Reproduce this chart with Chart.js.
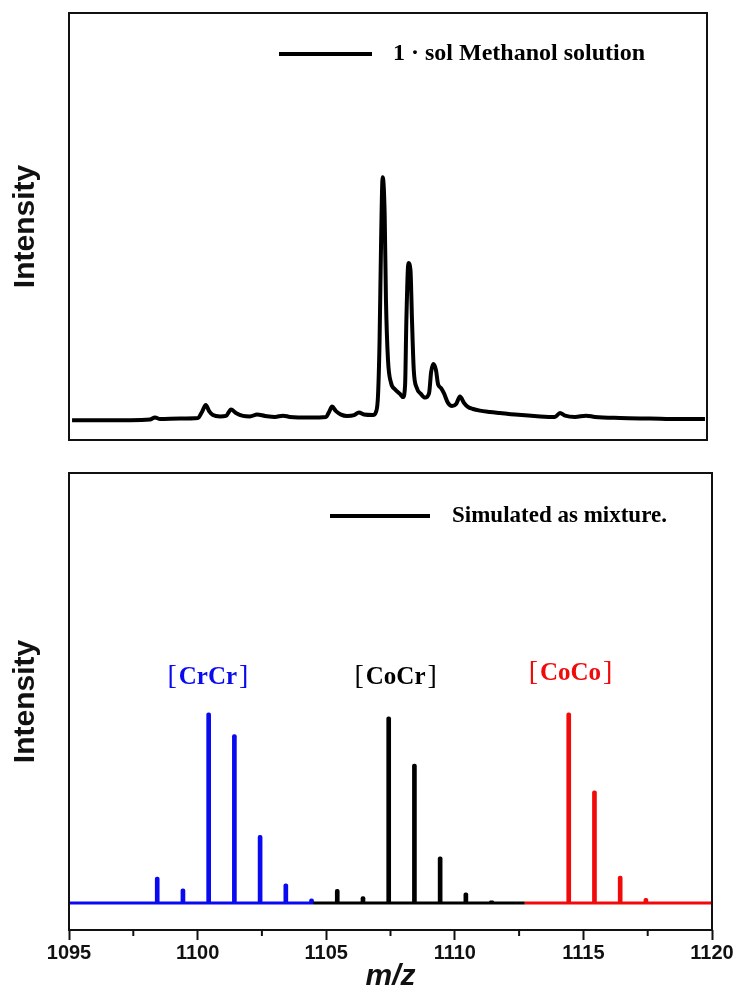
<!DOCTYPE html>
<html>
<head>
<meta charset="utf-8">
<script src="https://cdn.jsdelivr.net/npm/chart.js@4.4.1/dist/chart.umd.min.js"></script>
<style>
  body { margin: 0; background: #fff; }
  #wrap { position: relative; width: 740px; height: 992px; }
  canvas { position: absolute; left: 0; }
  #top { top: 0; }
  #bottom { top: 460px; }
</style>
</head>
<body>
<div id="wrap">
  <canvas id="top" width="740" height="450"></canvas>
  <canvas id="bottom" width="740" height="532"></canvas>
</div>
<script>
// measured spectrum (top panel), m/z and relative intensity
const mzTop = [
  1095.12, 1096.21, 1097.39, 1098.17, 1098.37, 1098.57, 1099.35, 1100.05, 1100.21, 1100.36,
  1100.49, 1100.64, 1100.92, 1101.15, 1101.35, 1101.54, 1101.82, 1102.09, 1102.37, 1102.68,
  1103.07, 1103.39, 1103.66, 1104.44, 1105.07, 1105.19, 1105.31, 1105.46, 1105.66, 1105.89,
  1106.17, 1106.36, 1106.56, 1106.91, 1107.03, 1107.11, 1107.17, 1107.23, 1107.29, 1107.37,
  1107.42, 1107.50, 1107.62, 1107.77, 1107.97, 1108.09, 1108.17, 1108.22, 1108.30, 1108.38,
  1108.44, 1108.51, 1108.63, 1108.79, 1108.95, 1109.11, 1109.19, 1109.28, 1109.38, 1109.46,
  1109.58, 1109.69, 1109.85, 1110.01, 1110.17, 1110.32, 1110.48, 1110.63, 1110.83, 1111.10,
  1111.50, 1111.89, 1112.48, 1113.46, 1114.04, 1114.24, 1114.44, 1114.83, 1115.26, 1115.61,
  1116.59, 1117.77, 1118.95, 1119.92
];
const intensityTop = [
  7.5, 7.5, 7.5, 7.7, 8.5, 7.9, 8.1, 8.3, 10.6, 13.2,
  10.9, 9.4, 8.9, 9.1, 11.5, 10.2, 9.1, 8.9, 9.6, 9.1,
  8.7, 9.2, 8.7, 8.5, 8.7, 10.6, 12.6, 10.9, 9.6, 9.1,
  9.4, 10.4, 9.6, 9.4, 10.6, 17.0, 37.7, 75.5, 99.2, 84.9,
  52.8, 30.2, 21.5, 19.2, 17.4, 16.2, 20.8, 45.3, 66.8, 64.2,
  45.3, 26.4, 19.6, 17.4, 16.0, 17.7, 25.7, 28.7, 26.4, 21.1,
  19.6, 17.7, 14.0, 12.8, 13.6, 16.4, 14.0, 12.5, 11.7, 11.1,
  10.6, 10.2, 9.6, 8.9, 8.7, 10.2, 9.2, 8.7, 9.2, 8.7,
  8.3, 8.1, 7.9, 7.9
];

// simulated isotope patterns (bottom panel)
const crcrMz = [1096.43, 1097.43, 1098.43, 1099.43, 1100.43, 1101.43, 1102.43, 1103.43, 1104.43];
const crcrI  = [0.4, 0.4, 13.6, 7.5, 100, 88.5, 35.5, 10.1, 2.2];
const cocrMz = [1105.43, 1106.43, 1107.43, 1108.43, 1109.43, 1110.43, 1111.43];
const cocrI  = [7.2, 3.3, 97.9, 73.0, 24.3, 5.4, 1.1];
const cocoMz = [1114.43, 1115.43, 1116.43, 1117.43, 1118.43, 1119.43];
const cocoI  = [100, 58.9, 14.2, 2.5, 0.4, 0.4];

// baseline segments of each coloured trace
const crcrRange = [1095, 1104.49];
const cocrRange = [1104.49, 1112.72];
const cocoRange = [1112.72, 1120];

const clusterNames = ['CrCr', 'CoCr', 'CoCo'];
const clusterLabelMz = [1100.4, 1107.7, 1114.5];
const clusterLabelI = [119, 119, 121];

const xTicks = [1095, 1100, 1105, 1110, 1115, 1120];
const xMinorTicks = [1097.5, 1102.5, 1107.5, 1112.5, 1117.5];

const BLUE = '#0a0af0';
const BLACK = '#000000';
const RED = '#f00a0a';

const titleFont = { family: '"Liberation Sans Narrow", "Arial Narrow", "Liberation Sans", sans-serif', size: 30, weight: 'bold' };

// frame round the plot area
const boxPlugin = {
  id: 'box',
  afterDatasetsDraw(chart) {
    const a = chart.chartArea, ctx = chart.ctx;
    ctx.save();
    ctx.strokeStyle = '#111';
    ctx.lineWidth = 2;
    ctx.strokeRect(a.left, a.top, a.right - a.left, a.bottom - a.top);
    ctx.restore();
  }
};

// legend drawn inside the plot
const innerLegend = {
  id: 'innerLegend',
  afterDraw(chart, args, opts) {
    if (!opts.text) return;
    const ctx = chart.ctx;
    ctx.save();
    ctx.strokeStyle = '#000';
    ctx.lineWidth = 4;
    ctx.beginPath();
    ctx.moveTo(opts.x0, opts.y);
    ctx.lineTo(opts.x1, opts.y);
    ctx.stroke();
    ctx.fillStyle = '#000';
    ctx.font = 'bold ' + opts.size + 'px "Liberation Serif", serif';
    ctx.textBaseline = 'middle';
    ctx.fillText(opts.text, opts.textX, opts.y);
    ctx.restore();
  }
};

// cluster names above each pattern
const clusterLabels = {
  id: 'clusterLabels',
  afterDatasetsDraw(chart) {
    if (chart.canvas.id !== 'bottom') return;
    const ctx = chart.ctx, xs = chart.scales.x, ys = chart.scales.y;
    const colors = [BLUE, BLACK, RED];
    ctx.save();
    ctx.textBaseline = 'middle';
    clusterNames.forEach((name, i) => {
      const cx = xs.getPixelForValue(clusterLabelMz[i]);
      const cy = ys.getPixelForValue(clusterLabelI[i]);
      const brFont = '28px "Liberation Serif", serif';
      const nmFont = 'bold 25px "Liberation Serif", serif';
      ctx.font = brFont;
      const bw = ctx.measureText('[').width;
      ctx.font = nmFont;
      const nw = ctx.measureText(name).width;
      const total = bw * 2 + nw + 4;
      let x = cx - total / 2;
      ctx.fillStyle = colors[i];
      ctx.font = brFont;
      ctx.fillText('[', x, cy);
      x += bw + 2;
      ctx.font = nmFont;
      ctx.fillText(name, x, cy + 1);
      x += nw + 2;
      ctx.font = brFont;
      ctx.fillText(']', x, cy);
    });
    ctx.restore();
  }
};

const minorTicks = {
  id: 'minorTicks',
  afterDraw(chart) {
    if (chart.canvas.id !== 'bottom') return;
    const ctx = chart.ctx, xs = chart.scales.x, b = chart.chartArea.bottom;
    ctx.save();
    ctx.strokeStyle = '#111';
    ctx.lineWidth = 2;
    xMinorTicks.forEach(v => {
      const x = xs.getPixelForValue(v);
      ctx.beginPath();
      ctx.moveTo(x, b);
      ctx.lineTo(x, b + 6);
      ctx.stroke();
    });
    ctx.restore();
  }
};

Chart.register(boxPlugin, innerLegend, clusterLabels, minorTicks);

function pts(xs, ys) {
  return xs.map((x, i) => ({ x: x, y: ys[i] }));
}

// Top panel
new Chart(document.getElementById('top').getContext('2d'), {
  type: 'line',
  data: {
    datasets: [{
      data: pts(mzTop, intensityTop),
      borderColor: '#000',
      borderWidth: 4,
      pointRadius: 0,
      cubicInterpolationMode: 'monotone',
      borderJoinStyle: 'round'
    }]
  },
  options: {
    responsive: false,
    animation: false,
    layout: { padding: { top: 13, right: 33, bottom: 10, left: 0 } },
    plugins: {
      legend: { display: false },
      tooltip: { enabled: false },
      innerLegend: { x0: 279, x1: 372, y: 54, textX: 393, size: 24, text: '1 · sol Methanol solution' }
    },
    scales: {
      x: { type: 'linear', min: 1095, max: 1120, display: false },
      y: {
        min: 0, max: 161.2,
        afterFit: axis => { axis.width = 69; },
        ticks: { display: false },
        grid: { display: false },
        border: { display: false },
        title: { display: true, text: 'Intensity', color: '#111', font: titleFont, padding: { top: 8, bottom: 0 } }
      }
    }
  }
});

// Bottom panel
const peak = { type: 'bar', barThickness: 4, borderRadius: 2, borderSkipped: 'bottom', grouped: false };
const base = { type: 'line', borderWidth: 3, pointRadius: 0 };

new Chart(document.getElementById('bottom').getContext('2d'), {
  type: 'bar',
  data: {
    datasets: [
      Object.assign({ data: pts(crcrRange, [0, 0]), borderColor: BLUE }, base),
      Object.assign({ data: pts(cocrRange, [0, 0]), borderColor: BLACK }, base),
      Object.assign({ data: pts(cocoRange, [0, 0]), borderColor: RED }, base),
      Object.assign({ data: pts(crcrMz, crcrI), backgroundColor: BLUE }, peak),
      Object.assign({ data: pts(cocrMz, cocrI), backgroundColor: BLACK }, peak),
      Object.assign({ data: pts(cocoMz, cocoI), backgroundColor: RED }, peak)
    ]
  },
  options: {
    responsive: false,
    animation: false,
    layout: { padding: { top: 13, right: 28, bottom: 0, left: 0 } },
    plugins: {
      legend: { display: false },
      tooltip: { enabled: false },
      innerLegend: { x0: 330, x1: 430, y: 56, textX: 452, size: 23, text: 'Simulated as mixture.' }
    },
    scales: {
      x: {
        type: 'linear', min: 1095, max: 1120, offset: false,
        afterFit: axis => { axis.height = 62; },
        afterBuildTicks: axis => { axis.ticks = xTicks.map(v => ({ value: v })); },
        ticks: {
          color: '#111', padding: 1,
          font: { family: '"Liberation Sans", Arial, sans-serif', size: 20, weight: 'bold' },
          callback: v => String(v)
        },
        grid: { display: true, offset: false, drawOnChartArea: false, tickLength: 10, tickWidth: 2, tickColor: '#111' },
        border: { display: false },
        title: { display: true, text: 'm/z', color: '#111', padding: { top: 0, bottom: 0 },
                 font: { family: '"Liberation Sans", Arial, sans-serif', size: 30, weight: 'bold', style: 'italic', lineHeight: 1.0 } }
      },
      y: {
        min: -14.2, max: 226,
        afterFit: axis => { axis.width = 69; },
        ticks: { display: false },
        grid: { display: false },
        border: { display: false },
        title: { display: true, text: 'Intensity', color: '#111', font: titleFont, padding: { top: 8, bottom: 0 } }
      }
    }
  }
});
</script>
</body>
</html>
